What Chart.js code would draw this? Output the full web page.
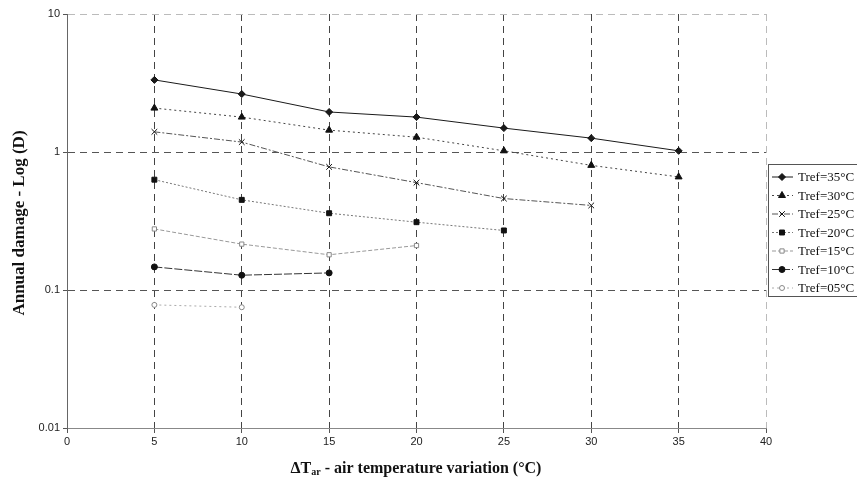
<!DOCTYPE html>
<html>
<head>
<meta charset="utf-8">
<script src="https://cdn.jsdelivr.net/npm/chart.js@4/dist/chart.umd.min.js"></script>
<style>
  html, body { margin: 0; padding: 0; background: #fff; }
  #wrap { width: 857px; height: 481px; position: relative; }
</style>
</head>
<body>
<div id="wrap"><canvas id="chart" width="857" height="481"></canvas></div>
<script>
// x values (ΔTar, °C)
const deltaT = [5, 10, 15, 20, 25, 30, 35];

// annual damage per reference temperature
const tref35 = [3.33, 2.63, 1.95, 1.79, 1.49, 1.26, 1.02];
const tref30 = [2.08, 1.79, 1.44, 1.28, 1.02, 0.80, 0.66];
const tref25 = [1.40, 1.18, 0.78, 0.60, 0.46, 0.41];
const tref20 = [0.63, 0.45, 0.36, 0.31, 0.27];
const tref15 = [0.277, 0.215, 0.18, 0.21];
const tref10 = [0.147, 0.128, 0.133];
const tref05 = [0.078, 0.075];

const seriesLabels = ["Tref=35°C", "Tref=30°C", "Tref=25°C", "Tref=20°C", "Tref=15°C", "Tref=10°C", "Tref=05°C"];
const xTicks = [0, 5, 10, 15, 20, 25, 30, 35, 40];
const yTicks = [0.01, 0.1, 1, 10];

function pts(vals) {
    return vals.map((v, i) => ({ x: deltaT[i], y: v }));
}

const styles = [
    { color: "#1a1a1a", dash: [],          point: "rectRot",  r: 3.5, fill: "#1a1a1a" },
    { color: "#444",    dash: [2, 3],      point: "triangle", r: 4,   fill: "#111" },
    { color: "#555",    dash: [6, 2, 2, 2], point: "crossRot", r: 4,  fill: "#555" },
    { color: "#777",    dash: [2, 2],      point: "rect",     r: 3.5, fill: "#111" },
    { color: "#999",    dash: [4, 2],      point: "rect",     r: 3,   fill: "#fff" },
    { color: "#333",    dash: [8, 2],      point: "circle",   r: 3,   fill: "#111" },
    { color: "#aaa",    dash: [2, 3],      point: "circle",   r: 2.5, fill: "#fff" }
];

const allSeries = [tref35, tref30, tref25, tref20, tref15, tref10, tref05];

const datasets = allSeries.map((vals, i) => ({
    label: seriesLabels[i],
    data: pts(vals),
    borderColor: styles[i].color,
    borderWidth: 1,
    borderDash: styles[i].dash,
    pointStyle: styles[i].point,
    pointRadius: styles[i].r,
    pointBackgroundColor: styles[i].fill,
    pointBorderColor: i === 4 || i === 6 ? "#888" : "#111",
    pointBorderWidth: 1,
    tension: 0
}));

// legend box + axis titles
const extras = {
    id: "extras",
    afterDraw(c) {
        const ctx = c.ctx;
        ctx.save();
        // legend
        ctx.strokeStyle = "#555";
        ctx.lineWidth = 1;
        ctx.strokeRect(768.5, 164.5, 110, 132);
        c.data.datasets.forEach((ds, i) => {
            const y = 177 + i * 18.5;
            ctx.save();
            ctx.strokeStyle = ds.borderColor;
            ctx.setLineDash(ds.borderDash);
            ctx.beginPath();
            ctx.moveTo(772, y);
            ctx.lineTo(793, y);
            ctx.stroke();
            ctx.restore();
            ctx.save();
            ctx.fillStyle = ds.pointBackgroundColor;
            ctx.strokeStyle = ds.pointBorderColor;
            ctx.lineWidth = 1;
            Chart.helpers.drawPoint(ctx, { pointStyle: ds.pointStyle, radius: ds.pointRadius, rotation: 0, borderWidth: 1 }, 782, y);
            ctx.restore();
            ctx.fillStyle = "#111";
            ctx.font = "13px 'Liberation Serif'";
            ctx.textBaseline = "middle";
            ctx.fillText(ds.label, 798, y + 1);
        });

        // y title
        ctx.save();
        ctx.translate(20, 223);
        ctx.rotate(-Math.PI / 2);
        ctx.font = "bold 17px 'Liberation Serif'";
        ctx.fillStyle = "#111";
        ctx.textAlign = "center";
        ctx.textBaseline = "middle";
        ctx.fillText("Annual damage - Log (D)", 0, 0);
        ctx.restore();

        // x title with subscript
        ctx.font = "bold 16px 'Liberation Serif'";
        ctx.fillStyle = "#111";
        ctx.textBaseline = "alphabetic";
        const p1 = "ΔT", sub = "ar", p2 = " - air temperature variation (°C)";
        const w1 = ctx.measureText(p1).width;
        const w3 = ctx.measureText(p2).width;
        ctx.font = "bold 10px 'Liberation Serif'";
        const w2 = ctx.measureText(sub).width;
        let x = 416 - (w1 + w2 + w3) / 2;
        const base = 473;
        ctx.font = "bold 16px 'Liberation Serif'";
        ctx.fillText(p1, x, base);
        x += w1;
        ctx.font = "bold 10px 'Liberation Serif'";
        ctx.fillText(sub, x, base + 2);
        x += w2;
        ctx.font = "bold 16px 'Liberation Serif'";
        ctx.fillText(p2, x, base);
        ctx.restore();
    }
};

const chart = new Chart(document.getElementById("chart"), {
    type: "line",
    data: { datasets },
    options: {
        responsive: false,
        animation: false,
        layout: { padding: { top: 14, right: 91, left: 0, bottom: 0 } },
        plugins: { legend: { display: false }, tooltip: { enabled: false } },
        scales: {
            x: {
                type: "linear",
                min: 0,
                max: 40,
                afterBuildTicks: s => { s.ticks = xTicks.map(v => ({ value: v })); },
                afterFit: s => { s.height = 53; },
                ticks: { color: "#222", font: { family: "'Liberation Sans'", size: 11 }, padding: 2, maxRotation: 0 },
                grid: {
                    color: ctx => ctx.tick && ctx.tick.value === 0 ? "rgba(0,0,0,0)" : (ctx.tick && ctx.tick.value === 40 ? "#bbb" : "#444"),
                    tickColor: "#555",
                    tickLength: 5,
                    lineWidth: 1
                },
                border: { color: "#888", width: 1, dash: [7, 5] }
            },
            y: {
                type: "logarithmic",
                min: 0.01,
                max: 10,
                afterBuildTicks: s => { s.ticks = yTicks.map(v => ({ value: v })); },
                afterFit: s => { s.width = 67; },
                ticks: {
                    color: "#222",
                    font: { family: "'Liberation Sans'", size: 11 },
                    padding: 3,
                    callback: v => String(v)
                },
                grid: {
                    color: ctx => ctx.tick && ctx.tick.value === 0.01 ? "rgba(0,0,0,0)" : (ctx.tick && ctx.tick.value === 10 ? "#bbb" : "#555"),
                    tickColor: "#555",
                    tickLength: 4,
                    lineWidth: 1
                },
                border: { color: "#666", width: 1, dash: [7, 5] }
            }
        }
    },
    plugins: [extras]
});
</script>
</body>
</html>
